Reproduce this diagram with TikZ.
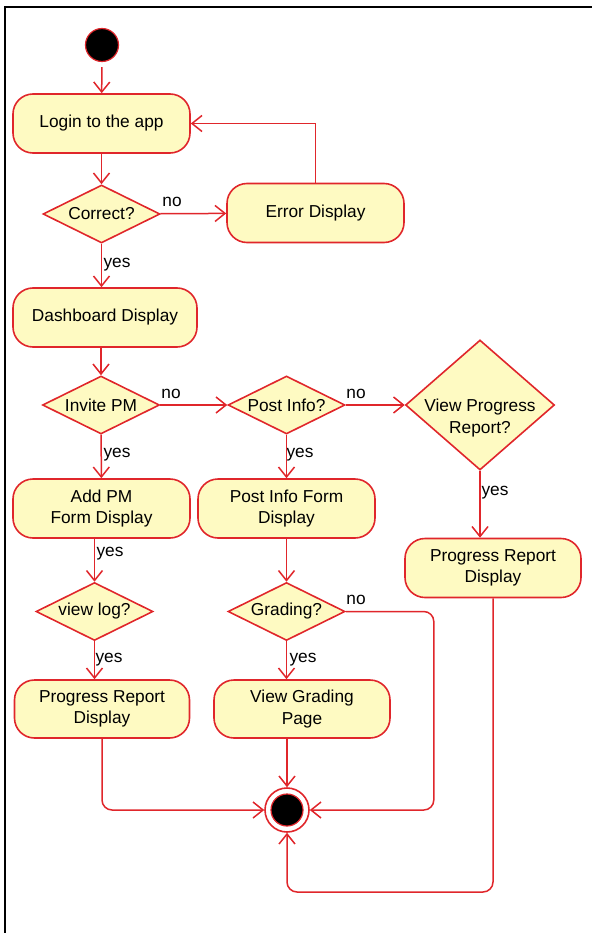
\documentclass[tikz,border=0pt]{standalone}
\usepackage{fontspec}
\setmainfont{Liberation Sans}
\usetikzlibrary{shapes.geometric,arrows.meta}

\definecolor{umlred}{HTML}{E0262B}
\definecolor{umlfill}{HTML}{FEFAC2}

\begin{document}
\begin{tikzpicture}[x=1pt,y=-1pt,
 font=\fontsize{17.3}{21.5}\selectfont,
 act/.style={draw=umlred,fill=umlfill,line width=1.6pt,rounded corners=20pt,
  minimum width=177pt,minimum height=59pt,align=center,inner sep=0pt},
 decision/.style={draw=umlred,fill=umlfill,line width=1.6pt,diamond,aspect=2,
  minimum width=117pt,minimum height=58pt,inner sep=0pt},
 flow/.style={draw=umlred,line width=1.5pt,-{Straight Barb[length=10pt,width=16pt]}},
 guard/.style={inner sep=0pt}]

\useasboundingbox (0,0) rectangle (592,933);
\draw[line width=2pt] (5,933) -- (5,7) -- (592,7); % frame

% nodes
\node[circle,draw=umlred,fill=black,line width=1.2pt,minimum size=33pt,inner sep=0pt] (start) at (102,45) {};
\node[act] (login) at (101.5,123.5) {Login to the app};
\node[decision] (correct) at (101.5,214) {Correct?};
\node[act] (error) at (315.5,213) {Error Display};
\node[act,minimum width=184pt] (dash) at (105,317.5) {Dashboard Display};

\node[decision] (invite) at (101,405) {Invite PM};
\node[decision] (post) at (286.5,405) {Post Info?};
\node[decision,minimum width=149pt,minimum height=130pt] (vpr) at (480,405) {};
\node[align=center] at ([yshift=-13pt]vpr.center) {View Progress\\Report?};

\node[act] (addpm) at (101.5,508.5) {Add PM\\Form Display};
\node[act] (pif) at (286.5,508.5) {Post Info Form\\Display};
\node[act,minimum width=176pt] (prr) at (493,568) {Progress Report\\Display};

\node[decision] (viewlog) at (94.5,611.5) {view log?};
\node[decision] (grading) at (286.5,611.5) {Grading?};

\node[act,minimum width=175pt,minimum height=58pt] (prl) at (102,709) {Progress Report\\Display};
\node[act,minimum width=176pt,minimum height=58pt] (vgp) at (302,709) {View Grading\\Page};

\node[circle,draw=umlred,fill=white,line width=1.6pt,minimum size=44pt,inner sep=0pt] (final) at (287,810) {};
\draw[umlred,fill=black,line width=1.2pt] (final.center) circle (16pt);

% guards
\node[guard] (g1) at (172,202) {no};
\node[guard] (g2) at (117,265) {yes};
\node[guard] (g3) at (171,394) {no};
\node[guard] (g4) at (356,394) {no};
\node[guard] (g5) at (117,455) {yes};
\node[guard] (g6) at (300,455) {yes};
\node[guard] (g7) at (495,493) {yes};
\node[guard] (g8) at (110,554) {yes};
\node[guard] (g9) at (356,600) {no};
\node[guard] (g10) at (109,660) {yes};
\node[guard] (g11) at (303,660) {yes};

% flows
\draw[flow,shorten <=5pt] (start) -- (login);
\draw[flow] (login) -- (correct);
\draw[flow] (correct) -- (error);
\draw[flow] (error.north) |- (login.east);
\draw[flow] (correct) -- (correct |- dash.north);
\draw[flow] (dash.south -| invite) -- (invite);
\draw[flow] (invite) -- (post);
\draw[flow] (post) -- (vpr);
\draw[flow] (invite) -- (addpm);
\draw[flow] (post) -- (pif);
\draw[flow] (vpr) -- (vpr |- prr.north);
\draw[flow] (addpm.south -| viewlog) -- (viewlog);
\draw[flow] (pif) -- (grading);
\draw[flow] (viewlog) -- (viewlog |- prl.north);
\draw[flow] (grading) -- (grading |- vgp.north);
\draw[flow] (vgp.south -| final) -- (final);
\draw[flow,rounded corners=10pt] (grading.east) -- ++(88,0) |- (final);
\draw[flow,rounded corners=10pt] (prl) |- (final);
\coordinate (back) at (494,892);
\draw[flow,rounded corners=10pt] (prr) -- (prr |- back) -| (final);

\end{tikzpicture}
\end{document}
